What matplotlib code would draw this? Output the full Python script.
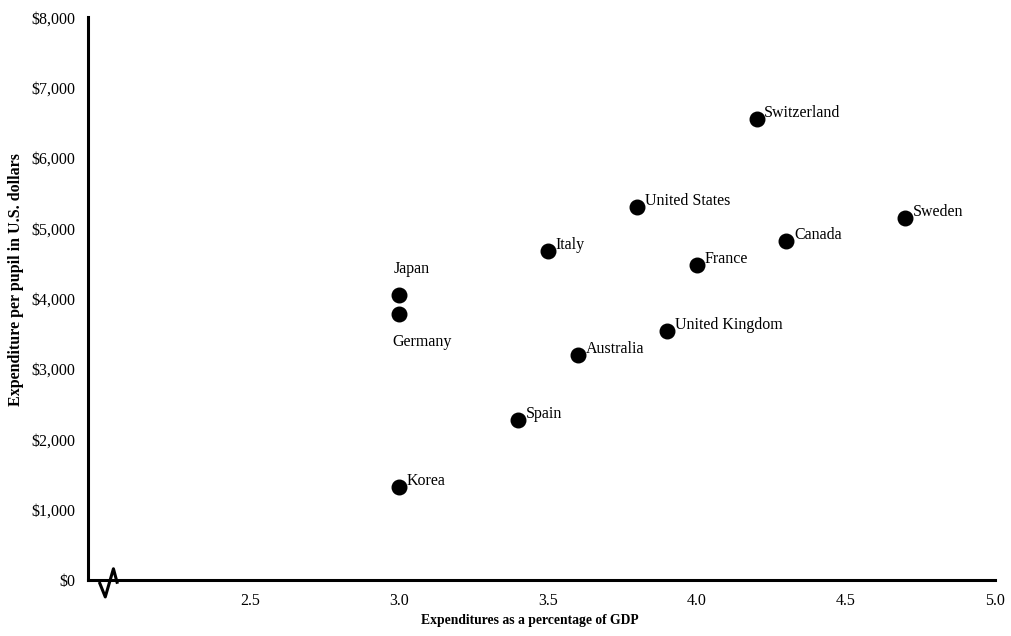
import matplotlib.pyplot as plt
from matplotlib.lines import Line2D
from matplotlib.ticker import FuncFormatter

plt.rcParams['font.family'] = ['Liberation Serif', 'DejaVu Serif']

countries = ['Switzerland', 'United States', 'Italy', 'France', 'Canada', 'Sweden',
             'Japan', 'Germany', 'United Kingdom', 'Australia', 'Spain', 'Korea']
gdp_pct = [4.2, 3.8, 3.5, 4.0, 4.3, 4.7, 3.0, 3.0, 3.9, 3.6, 3.4, 3.0]
spending = [6550, 5300, 4675, 4475, 4820, 5145, 4050, 3780, 3540, 3200, 2275, 1320]

fig = plt.figure(figsize=(10.12, 6.36), dpi=100)
ax = fig.add_axes([0.087, 0.088, 0.896, 0.885])

ax.scatter(gdp_pct, spending, s=110, color='black', zorder=3)

for name, x, y in zip(countries, gdp_pct, spending):
    if name == 'Japan':
        ax.annotate(name, (x, y), xytext=(-4, 13), textcoords='offset points',
                    ha='left', va='bottom', fontsize=11.5)
    elif name == 'Germany':
        ax.annotate(name, (x, y), xytext=(-5, -14), textcoords='offset points',
                    ha='left', va='top', fontsize=11.5)
    else:
        ax.annotate(name, (x, y), xytext=(5.5, 4.5), textcoords='offset points',
                    ha='left', va='center', fontsize=11.5)

ax.set_xlim(1.955, 5.0)
ax.set_ylim(0, 8000)
ax.set_xticks([2.5, 3.0, 3.5, 4.0, 4.5, 5.0])
ax.set_yticks(range(0, 8001, 1000))
ax.xaxis.set_major_formatter(FuncFormatter(lambda v, p: f'{v:.1f}'))
ax.yaxis.set_major_formatter(FuncFormatter(lambda v, p: f'${int(v):,}'))
ax.tick_params(length=0, labelsize=11.5, pad=9)

for s in ['top', 'right']:
    ax.spines[s].set_visible(False)
for s in ['left', 'bottom']:
    ax.spines[s].set_linewidth(2.2)

ax.set_xlabel('Expenditures as a percentage of GDP', fontsize=9.8, fontweight='bold')
ax.xaxis.set_label_coords(0.487, -0.061)
ax.set_ylabel('Expenditure per pupil in U.S. dollars', fontsize=11.5, fontweight='bold')
ax.yaxis.set_label_coords(-0.071, 0.533)

# axis break symbol
brk = Line2D([0.013, 0.019, 0.028, 0.032], [-0.006, -0.03, 0.02, -0.004],
             transform=ax.transAxes, color='black', lw=2.2, clip_on=False, zorder=4)
ax.add_line(brk)

fig.savefig('out.png', dpi=100)
